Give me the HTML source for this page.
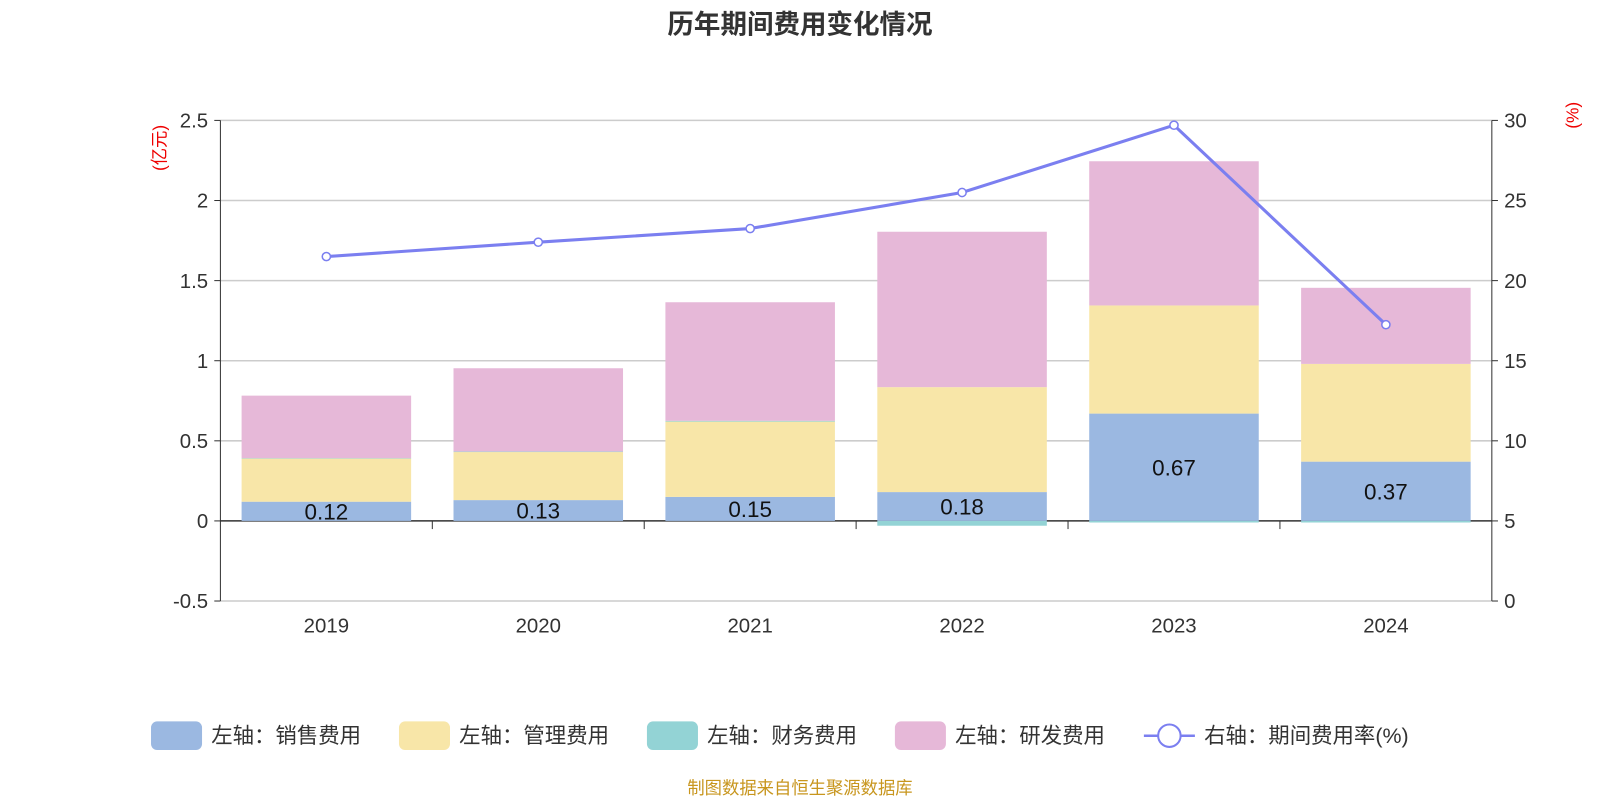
<!DOCTYPE html>
<html><head><meta charset="utf-8"><style>
body{margin:0;background:#fff;}
svg{font-family:"Liberation Sans","Noto Sans CJK SC",sans-serif;display:block;}
</style></head><body>
<svg id="c" width="1600" height="800" viewBox="0 0 1568 784" xmlns="http://www.w3.org/2000/svg">
<text x="784" y="33" text-anchor="middle" font-size="26" font-weight="bold" fill="#333">历年期间费用变化情况</text>
<text transform="translate(162,145) rotate(-90)" text-anchor="middle" font-size="17" fill="#e00">(亿元)</text>
<text transform="translate(1547,113) rotate(-90)" text-anchor="middle" font-size="17" fill="#e00">(%)</text>
<g id="grid"></g><g id="bars"></g><g id="line"></g><g id="legend"></g>
<text x="784" y="778" text-anchor="middle" font-size="17" fill="#c8961e">制图数据来自恒生聚源数据库</text>
</svg>
<script>
const categories=["2019","2020","2021","2022","2023","2024"];
const sales=[0.12,0.13,0.15,0.18,0.67,0.37];
const mgmt=[0.27,0.30,0.47,0.655,0.675,0.61];
const finance=[0.002,0.003,0.005,-0.03,-0.01,-0.01];
const rnd=[0.39,0.52,0.74,0.97,0.90,0.475];
const rate=[21.5,22.4,23.25,25.5,29.7,17.25];
const leftTicks=[-0.5,0,0.5,1,1.5,2,2.5];
const rightTicks=[0,5,10,15,20,25,30];
const NS="http://www.w3.org/2000/svg";
const X0=216,X1=1462,Ytop=118,Ybot=589;
const yL=v=>Ybot-(v+0.5)/3*(Ybot-Ytop);
const yR=v=>Ybot-v/30*(Ybot-Ytop);
const band=(X1-X0)/categories.length;
const xC=i=>X0+band*(i+0.5);
function mk(tag,attrs,parent,text){const e=document.createElementNS(NS,tag);for(const k in attrs)e.setAttribute(k,attrs[k]);if(text!==undefined)e.textContent=text;document.getElementById(parent).appendChild(e);return e;}
leftTicks.forEach((t,i)=>{
  const y=yL(t);
  if(t!==0){const l=mk('line',{x1:X0,x2:X1,y1:y,y2:y,stroke:'#ccc','stroke-width':1.5},'grid');}
  const tx=mk('text',{x:X0-12,y:y+7,'text-anchor':'end','font-size':20,fill:'#333'},'grid',String(t));
  
  mk('line',{x1:X0-6,x2:X0,y1:y,y2:y,stroke:'#333'},'grid');
});
rightTicks.forEach(t=>{
  const y=yR(t);
  const tx=mk('text',{x:X1+12,y:y+7,'font-size':20,fill:'#333'},'grid',String(t));
  
  mk('line',{x1:X1,x2:X1+6,y1:y,y2:y,stroke:'#333'},'grid');
});
mk('line',{x1:X0,x2:X0,y1:Ytop,y2:Ybot,stroke:'#333'},'grid');
mk('line',{x1:X1,x2:X1,y1:Ytop,y2:Ybot,stroke:'#333'},'grid');
mk('line',{x1:X0,x2:X1,y1:yL(0),y2:yL(0),stroke:'#333','stroke-width':1.5},'grid');
categories.forEach((c,i)=>{
  if(i>0)mk('line',{x1:X0+band*i,x2:X0+band*i,y1:yL(0),y2:yL(0)+8,stroke:'#333'},'grid');
  const tx=mk('text',{x:xC(i),y:620,'text-anchor':'middle','font-size':20,fill:'#333'},'grid',c);
  
});
const series=[[sales,'#9bb8e1','sales'],[mgmt,'#f8e6a8','mgmt'],[finance,'#93d3d5','finance'],[rnd,'#e6b8d8','rnd']];
const bw=band*0.8;
categories.forEach((c,i)=>{
  let pos=0,neg=0;
  series.forEach(([arr,col,nm])=>{
    const v=arr[i];let a,b;
    if(v>=0){a=pos;b=pos+v;pos=b;}else{a=neg;b=neg+v;neg=b;}
    const y1=yL(Math.max(a,b)),y2=yL(Math.min(a,b));
    const r=mk('rect',{x:xC(i)-bw/2,y:y1,width:bw,height:Math.max(y2-y1,0.5),fill:col},'bars');
    
  });
  const t=mk('text',{x:xC(i),y:(yL(0)+yL(sales[i]))/2+8,'text-anchor':'middle','font-size':22,fill:'#111'},'bars',sales[i].toFixed(2));
  
});
const pts=rate.map((v,i)=>xC(i)+','+yR(v)).join(' ');
const pl=mk('polyline',{points:pts,fill:'none',stroke:'#7b7ff0','stroke-width':3},'line');

rate.forEach((v,i)=>{const p=mk('circle',{cx:xC(i),cy:yR(v),r:4,fill:'#fff',stroke:'#7b7ff0','stroke-width':1.5},'line');
});
const leg=[['#9bb8e1','左轴：销售费用',148],['#f8e6a8','左轴：管理费用',391],['#93d3d5','左轴：财务费用',634],['#e6b8d8','左轴：研发费用',877]];
leg.forEach(([col,txt,x])=>{
  const r=mk('rect',{x:x,y:707,width:50,height:28,rx:6,fill:col},'legend');
  
  const t=mk('text',{x:x+59,y:728,'font-size':21,fill:'#333'},'legend',txt);
  
});
mk('line',{x1:1121,x2:1171,y1:721,y2:721,stroke:'#7b7ff0','stroke-width':2.5},'legend');
const lc=mk('circle',{cx:1146,cy:721,r:11,fill:'#fff',stroke:'#7b7ff0','stroke-width':2},'legend');

const lt=mk('text',{x:1180,y:728,'font-size':21,fill:'#333'},'legend','右轴：期间费用率(%)');

</script>
</body></html>
